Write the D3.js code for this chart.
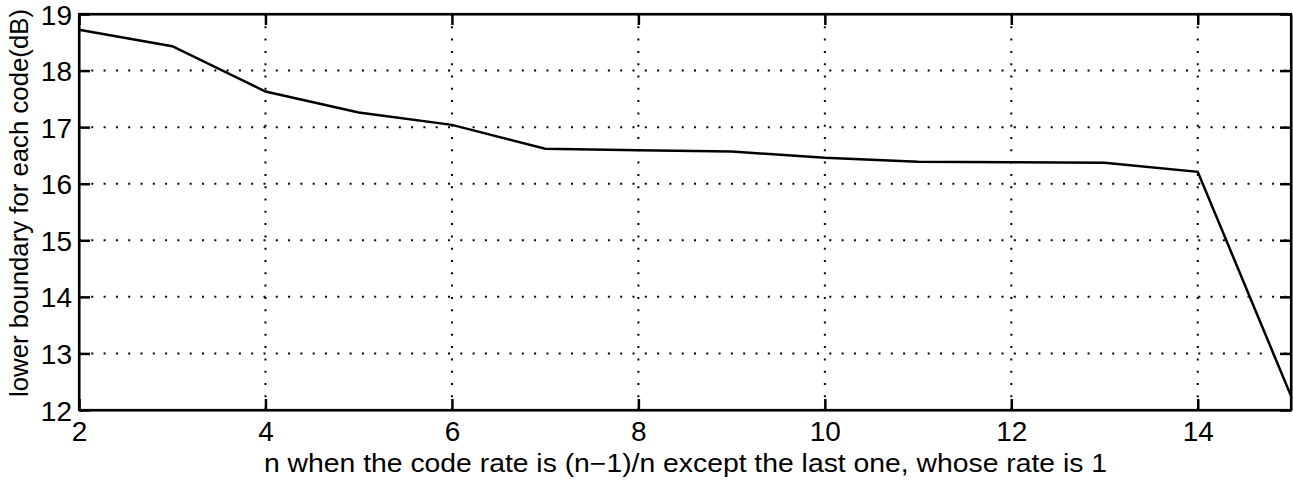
<!DOCTYPE html>
<html>
<head>
<meta charset="utf-8">
<script src="https://cdn.jsdelivr.net/npm/d3@7"></script>
<style>
  body { margin: 0; background: #fff; }
  svg text { font-family: "Liberation Sans", Arial, sans-serif; fill: #000; }
</style>
</head>
<body>
<svg width="1293" height="487"></svg>
<script>
    // data
    const nValues = [2, 3, 4, 5, 6, 7, 8, 9, 10, 11, 12, 13, 14, 15];
    const boundary = [18.72, 18.43, 17.63, 17.26, 17.04, 16.62, 16.59, 16.57, 16.46, 16.39, 16.38, 16.37, 16.21, 12.25];
    const xTicks = [2, 4, 6, 8, 10, 12, 14];
    const yTicks = [12, 13, 14, 15, 16, 17, 18, 19];

    const svg = d3.select('svg');
    const margin = { top: 14, right: 2, bottom: 77, left: 79 };
    const width = 1293 - margin.left - margin.right;
    const height = 487 - margin.top - margin.bottom;

    const xScale = d3.scaleLinear().domain([2, 15]).range([0, width]);
    const yScale = d3.scaleLinear().domain([12, 19]).range([height, 0]);

    const g = svg.append('g')
      .attr('transform', 'translate(' + margin.left + ',' + margin.top + ')');

    // dotted grid
    const grid = g.append('g').attr('stroke', '#000').attr('stroke-width', 2)
      .attr('stroke-dasharray', '2,10.3');
    grid.selectAll('.gx').data(xTicks.slice(1)).enter().append('line')
      .attr('x1', d => xScale(d)).attr('x2', d => xScale(d))
      .attr('y1', 0).attr('y2', height);
    grid.selectAll('.gy').data(yTicks.slice(1, -1)).enter().append('line')
      .attr('x1', 0).attr('x2', width)
      .attr('y1', d => yScale(d)).attr('y2', d => yScale(d));

    // axes with inward ticks
    const fmt = d3.format('d');
    const xAxis = d3.axisBottom(xScale).tickValues(xTicks).tickFormat(fmt).tickSizeInner(-11).tickSizeOuter(0).tickPadding(11);
    const yAxis = d3.axisLeft(yScale).tickValues(yTicks).tickFormat(fmt).tickSizeInner(-11).tickSizeOuter(0).tickPadding(7);
    const gX = g.append('g').attr('transform', 'translate(0,' + height + ')').call(xAxis);
    const gY = g.append('g').call(yAxis);
    const gXt = g.append('g').call(d3.axisTop(xScale).tickValues(xTicks).tickSizeInner(-11).tickSizeOuter(0).tickFormat(''));
    const gYr = g.append('g').attr('transform', 'translate(' + width + ',0)')
      .call(d3.axisRight(yScale).tickValues(yTicks).tickSizeInner(-11).tickSizeOuter(0).tickFormat(''));
    [gX, gY, gXt, gYr].forEach(a => {
      a.selectAll('path').attr('stroke-width', 2);
      a.selectAll('line').attr('stroke-width', 2.5);
      a.selectAll('text').style('font-size', '28px');
    });
    gX.selectAll('text').attr('dy', '0.71em');
    gY.selectAll('text').attr('dy', '0.36em');

    // frame
    g.append('rect').attr('width', width).attr('height', height)
      .attr('fill', 'none').attr('stroke', '#000').attr('stroke-width', 2.2);

    // the curve
    const line = d3.line()
      .x((d, i) => xScale(nValues[i]))
      .y(d => yScale(d));
    g.append('path').datum(boundary)
      .attr('d', line)
      .attr('fill', 'none')
      .attr('stroke', '#000')
      .attr('stroke-width', 2.5);

    // labels
    svg.append('text')
      .attr('x', 264).attr('y', 472)
      .attr('textLength', 843).attr('lengthAdjust', 'spacingAndGlyphs')
      .style('font-size', '25px')
      .text('n when the code rate is (n\u22121)/n except the last one, whose rate is 1');
    svg.append('text')
      .attr('transform', 'translate(28,203) rotate(-90)')
      .attr('text-anchor', 'middle')
      .attr('textLength', 388).attr('lengthAdjust', 'spacingAndGlyphs')
      .style('font-size', '26px')
      .text('lower boundary for each code(dB)');
</script>
</body>
</html>
